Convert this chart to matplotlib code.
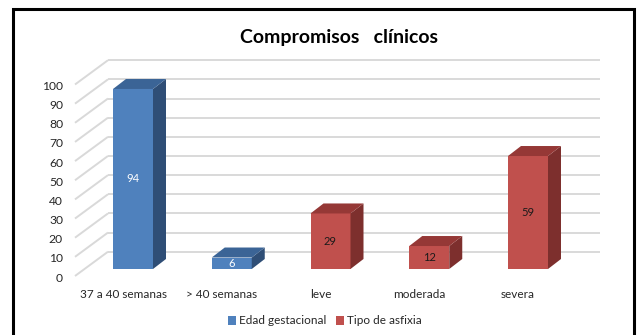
import matplotlib
matplotlib.use("Agg")
import matplotlib.pyplot as plt
from matplotlib.patches import Rectangle, Polygon

# datos
categorias = ["37 a 40 semanas", "> 40 semanas", "leve", "moderada", "severa"]
valores = [94, 6, 29, 12, 59]
serie_de_cat = ["Edad gestacional", "Edad gestacional",
                "Tipo de asfixia", "Tipo de asfixia", "Tipo de asfixia"]
series = ["Edad gestacional", "Tipo de asfixia"]
ticks_y = list(range(0, 101, 10))
titulo = "Compromisos   clínicos"

# frente, arriba, lado, color del texto
estilos = {
    "Edad gestacional": ("#4F81BD", "#3B6496", "#2F4E76", "white"),
    "Tipo de asfixia": ("#C0504D", "#953836", "#7D2F2D", "#1A1A1A"),
}

plt.rcParams['font.family'] = ['Lato', 'DejaVu Sans']

W, H = 640, 335
fig = plt.figure(figsize=(W / 100, H / 100), dpi=100)
ax = fig.add_axes([0, 0, 1, 1])

# escala pixel -> datos (plano frontal de las barras)
x0, paso = 133, 98.75
y0, esc = 269, 1.915
ax.set_xlim(-x0 / paso, (W - x0) / paso)
ax.set_ylim((y0 - H) / esc, y0 / esc)
ax.axis('off')


def px_x(d):
    return d / paso


def px_y(d):
    return d / esc


# planos: frente del eje, pared del fondo
x_front = px_x(75 - x0)
off_front = -px_y(7)
x_back = px_x(108 - x0)
off_back = px_y(17.3)
x_right = px_x(600 - x0)

grid_col = "#D9D9D9"
for v in ticks_y:
    ax.plot([x_front, x_back], [v + off_front, v + off_back], color=grid_col, lw=1.4, zorder=1,
            solid_capstyle='butt')
    ax.plot([x_back, x_right], [v + off_back, v + off_back], color=grid_col, lw=1.4, zorder=1,
            solid_capstyle='butt')
    ax.text(x_front - px_x(12), v + off_front - px_y(2), str(v), ha='right', va='center',
            fontsize=8.7, color='#262626')

# barras 3D
w = px_x(40)
dx, dy = px_x(13), px_y(10)
for i, (v, s) in enumerate(zip(valores, serie_de_cat)):
    frente, arriba, lado, txt = estilos[s]
    ax.add_patch(Rectangle((i - w / 2, 0), w, v, fc=frente, ec='none', zorder=3))
    ax.add_patch(Polygon([(i + w / 2, 0), (i + w / 2 + dx, dy), (i + w / 2 + dx, v + dy), (i + w / 2, v)],
                         closed=True, fc=lado, ec='none', zorder=3))
    ax.add_patch(Polygon([(i - w / 2, v), (i + w / 2, v), (i + w / 2 + dx, v + dy), (i - w / 2 + dx, v + dy)],
                         closed=True, fc=arriba, ec='none', zorder=3))
    ax.text(i, v / 2, str(v), ha='center', va='center', fontsize=8, color=txt, zorder=4)
    ax.text(i - px_x(10), px_y(269 - 294), categorias[i], ha='center', va='center',
            fontsize=8.5, color='#262626')

# leyenda
handles = [Rectangle((0, 0), 1, 1, fc=estilos[s][0], ec='none') for s in series]
ax.legend(handles, series, loc='center', bbox_to_anchor=(325 / W, 1 - 321 / H),
          bbox_transform=fig.transFigure, ncol=2, frameon=False, fontsize=8.5,
          handlelength=0.7, handleheight=0.7, handletextpad=0.25, columnspacing=0.8,
          labelcolor='#262626')

fig.text(339 / W, 1 - 38 / H, titulo, ha='center', va='center', fontsize=14, fontweight='bold')

# marco
fig.patches.append(Rectangle((13 / W, -0.05), (634 - 13) / W, 1 - 9 / H + 0.05,
                             transform=fig.transFigure, fill=False, ec='black', lw=2.2))

fig.savefig("out.png", dpi=100)
